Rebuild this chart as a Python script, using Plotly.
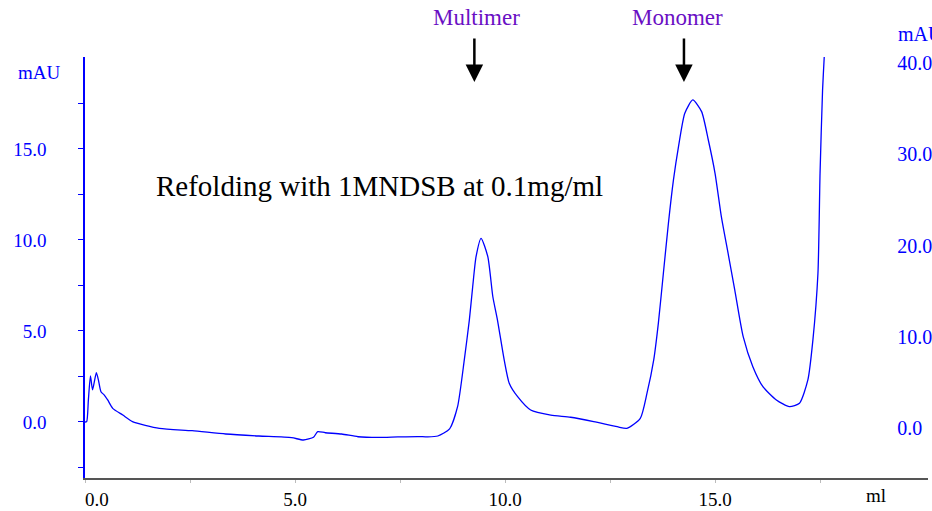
import plotly.graph_objects as go

# Elution volume (ml) and absorbance (mAU, left axis)
volume_ml = [0.0, 0.04, 0.08, 0.13, 0.18, 0.27, 0.32, 0.38, 0.46, 0.54, 0.66, 0.9, 1.13,
             1.77, 2.55, 3.35, 4.14, 4.92, 5.2, 5.44, 5.54, 5.72, 6.11, 6.5, 6.98, 7.45,
             7.93, 8.16, 8.4, 8.68, 8.87, 9.03, 9.15, 9.23, 9.31, 9.43, 9.59, 9.71, 9.82,
             9.98, 10.1, 10.3, 10.61, 11.09, 11.56, 12.11, 12.67, 12.9, 13.22, 13.38,
             13.54, 13.65, 13.77, 13.89, 14.01, 14.13, 14.28, 14.47, 14.68, 14.84, 15.0,
             15.15, 15.31, 15.47, 15.67, 15.9, 16.14, 16.46, 16.77, 17.01, 17.21, 17.33,
             17.45, 17.5, 17.56, 17.6, 17.62]
absorbance_mau = [0.0, 0.02, 1.2, 2.53, 1.76, 2.71, 2.3, 1.66, 1.48, 1.21, 0.75, 0.38, 0.02,
                  -0.35, -0.48, -0.66, -0.77, -0.86, -0.99, -0.84, -0.53, -0.59, -0.66,
                  -0.81, -0.85, -0.82, -0.8, -0.82, -0.77, -0.38, 0.84, 3.41, 5.6, 7.43,
                  9.08, 10.09, 9.08, 6.88, 5.6, 3.41, 2.13, 1.39, 0.66, 0.38, 0.26, 0.02,
                  -0.26, -0.35, 0.2, 1.58, 3.41, 5.42, 8.17, 10.92, 13.3, 15.13, 16.96,
                  17.69, 17.05, 15.49, 13.66, 11.28, 9.27, 7.25, 4.69, 3.04, 1.94, 1.21,
                  0.84, 1.03, 2.31, 4.51, 8.17, 13.66, 18.24, 20.07, 21.0]

x_tickvals = [0, 5, 10, 15]
x_ticktext = ["\u00a0\u00a0\u00a0\u00a0\u00a00.0", "5.0", "10.0", "15.0"]
x_minor = [2.5, 7.5, 12.5, 17.5]
left_tickvals = [0, 5, 10, 15]
left_ticktext = ["\u00a0\u00a00.0", "\u00a0\u00a05.0", "10.0", "15.0"]
left_minor = [-2.5, 2.5, 7.5, 12.5, 17.5]
right_tickvals = [0, 10, 20, 30, 40]
right_ticktext = ["0.0", "10.0", "20.0", "30.0", "40.0"]

peak_labels = ["Multimer", "Monomer"]
label_positions = [9.32, 14.1]
arrow_positions = [9.27, 14.26]

FONT = "'Liberation Serif', 'Times New Roman', Times, 'DejaVu Serif', serif"
BLUE = "#0000ff"
PURPLE = "#6a0fc4"

fig = go.Figure()
fig.add_trace(go.Scatter(x=volume_ml, y=absorbance_mau, mode="lines",
                         line=dict(color=BLUE, width=1.3, shape="spline",
                                   smoothing=0.6),
                         showlegend=False, hoverinfo="skip"))
fig.add_trace(go.Scatter(x=[None], y=[None], yaxis="y2", showlegend=False,
                         hoverinfo="skip"))

fig.update_layout(
    width=932, height=511,
    margin=dict(l=85, r=0, t=57, b=33),
    paper_bgcolor="white", plot_bgcolor="white",
    font=dict(family=FONT),
    xaxis=dict(range=[0, 20.07], showgrid=False, zeroline=False,
               showline=True, linecolor="#555555", linewidth=1.5,
               tickmode="array", tickvals=x_tickvals, ticktext=x_ticktext,
               ticks="outside", ticklen=3, tickcolor="#bbbbbb",
               minor=dict(tickmode="array", tickvals=x_minor, ticks="outside",
                          ticklen=3, tickcolor="#bbbbbb"),
               tickfont=dict(family=FONT, size=19, color="black")),
    yaxis=dict(range=[-3.077, 20.05], showgrid=False, zeroline=False,
               showline=True, linecolor=BLUE, linewidth=1.5,
               tickmode="array", tickvals=left_tickvals, ticktext=left_ticktext,
               ticks="outside", ticklen=5, tickcolor=BLUE,
               minor=dict(tickmode="array", tickvals=left_minor, ticks="outside",
                          ticklen=5, tickcolor=BLUE),
               ticklabelstandoff=28,
               tickfont=dict(family=FONT, size=19, color=BLUE)),
    yaxis2=dict(range=[-5.48, 40.66], overlaying="y", side="right",
                anchor="free", position=0.9622, showgrid=False,
                zeroline=False, showline=False, ticks="",
                tickmode="array", tickvals=right_tickvals, ticktext=right_ticktext,
                tickfont=dict(family=FONT, size=20, color=BLUE)),
)

annotations = [
    dict(text="mAU", xref="paper", yref="paper", x=-0.0815, y=0.962,
         xanchor="left", yanchor="middle", showarrow=False,
         font=dict(family=FONT, size=19, color=BLUE)),
    dict(text="mAU", xref="paper", yref="paper", x=0.962, y=1.0546,
         xanchor="left", yanchor="middle", showarrow=False,
         font=dict(family=FONT, size=20, color=BLUE)),
    dict(text="ml", xref="paper", yref="paper", x=0.9386, y=-0.0404,
         xanchor="center", yanchor="middle", showarrow=False,
         font=dict(family=FONT, size=19, color="black")),
    dict(text="Refolding with 1MNDSB at 0.1mg/ml", xref="paper", yref="paper",
         x=0.0815, y=0.6936, xanchor="left", yanchor="middle", showarrow=False,
         font=dict(family=FONT, size=29, color="black")),
]
for lab, lpos, apos in zip(peak_labels, label_positions, arrow_positions):
    annotations.append(dict(text=lab, x=lpos, xref="x", yref="paper", y=1.095,
                            xanchor="center", yanchor="middle", showarrow=False,
                            font=dict(family=FONT, size=23, color=PURPLE)))
    annotations.append(dict(text="", x=apos, xref="x", yref="paper", y=0.9406,
                            ax=0, ay=-45, showarrow=True, arrowhead=2,
                            arrowsize=1.4, arrowwidth=2.5, arrowcolor="black"))
fig.update_layout(annotations=annotations)

fig.write_html("out.html")
